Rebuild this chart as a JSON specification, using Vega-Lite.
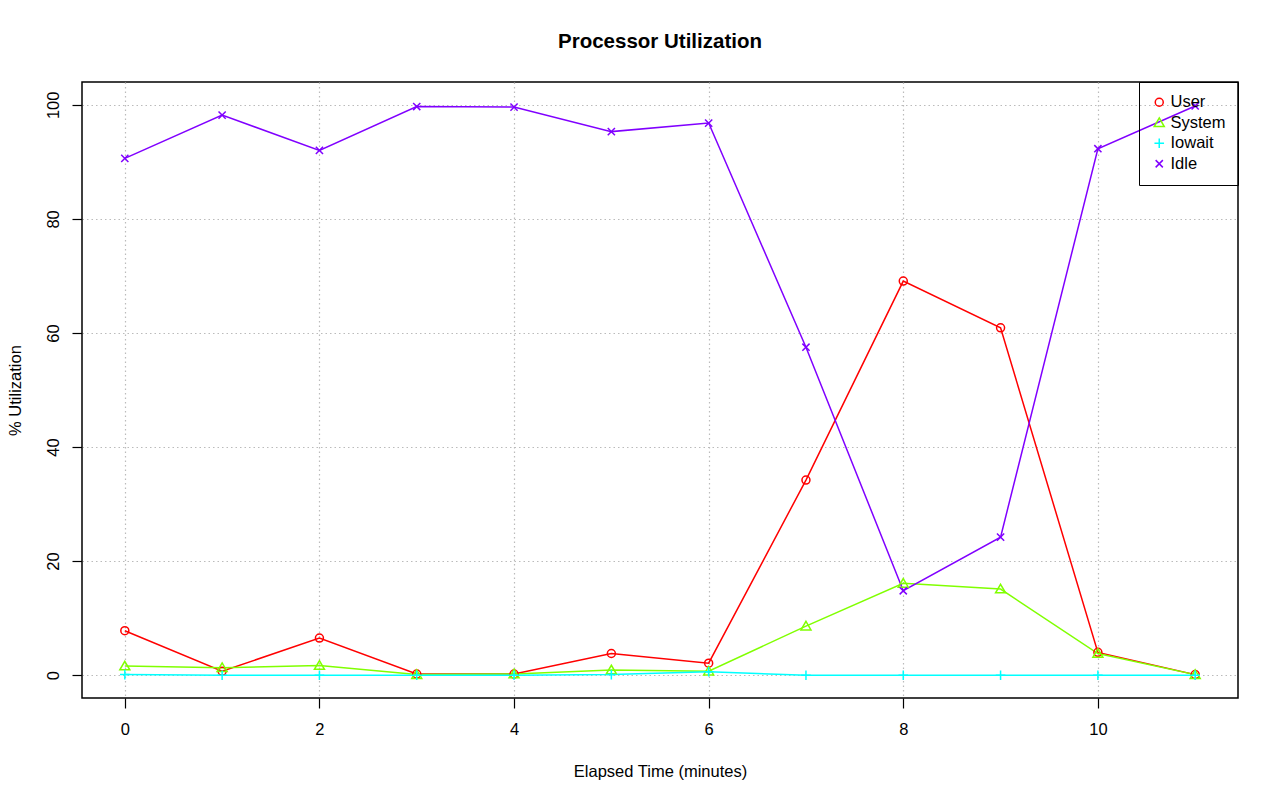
{
  "$schema": "https://vega.github.io/schema/vega-lite/v6.json",
  "autosize": {"type": "none"},
  "width": 1156,
  "height": 616,
  "padding": {"left": 82, "top": 82, "right": 42, "bottom": 103},
  "background": "white",
  "config": {
    "font": "Liberation Sans",
    "view": {"stroke": "black", "strokeWidth": 1.5},
    "axis": {
      "domain": false,
      "tickColor": "black",
      "tickSize": 10,
      "tickWidth": 1.2,
      "labelFontSize": 16.5,
      "labelColor": "black",
      "titleFontSize": 16.5,
      "titleFontWeight": "normal",
      "titleColor": "black",
      "gridColor": "#bbbbbb",
      "gridDash": [1.5, 3],
      "gridWidth": 1.2
    }
  },
  "title": {
    "text": "Processor Utilization",
    "fontSize": 20.5,
    "fontWeight": "bold",
    "color": "black",
    "anchor": "middle",
    "offset": 29
  },
  "data": {
    "values": [
      {"t": 0, "series": "User", "value": 7.8},
      {"t": 1, "series": "User", "value": 0.7},
      {"t": 2, "series": "User", "value": 6.5},
      {"t": 3, "series": "User", "value": 0.2},
      {"t": 4, "series": "User", "value": 0.2},
      {"t": 5, "series": "User", "value": 3.8},
      {"t": 6, "series": "User", "value": 2.1},
      {"t": 7, "series": "User", "value": 34.2},
      {"t": 8, "series": "User", "value": 69.1},
      {"t": 9, "series": "User", "value": 60.9},
      {"t": 10, "series": "User", "value": 4.0},
      {"t": 11, "series": "User", "value": 0.1},
      {"t": 0, "series": "System", "value": 1.6},
      {"t": 1, "series": "System", "value": 1.3},
      {"t": 2, "series": "System", "value": 1.7},
      {"t": 3, "series": "System", "value": 0.1},
      {"t": 4, "series": "System", "value": 0.2},
      {"t": 5, "series": "System", "value": 0.9},
      {"t": 6, "series": "System", "value": 0.7},
      {"t": 7, "series": "System", "value": 8.6},
      {"t": 8, "series": "System", "value": 16.1},
      {"t": 9, "series": "System", "value": 15.1},
      {"t": 10, "series": "System", "value": 3.8},
      {"t": 11, "series": "System", "value": 0.1},
      {"t": 0, "series": "Iowait", "value": 0.1},
      {"t": 1, "series": "Iowait", "value": 0.0},
      {"t": 2, "series": "Iowait", "value": 0.0},
      {"t": 3, "series": "Iowait", "value": 0.0},
      {"t": 4, "series": "Iowait", "value": 0.0},
      {"t": 5, "series": "Iowait", "value": 0.1},
      {"t": 6, "series": "Iowait", "value": 0.6},
      {"t": 7, "series": "Iowait", "value": 0.0},
      {"t": 8, "series": "Iowait", "value": 0.0},
      {"t": 9, "series": "Iowait", "value": 0.0},
      {"t": 10, "series": "Iowait", "value": 0.0},
      {"t": 11, "series": "Iowait", "value": 0.0},
      {"t": 0, "series": "Idle", "value": 90.6},
      {"t": 1, "series": "Idle", "value": 98.2},
      {"t": 2, "series": "Idle", "value": 92.0},
      {"t": 3, "series": "Idle", "value": 99.7},
      {"t": 4, "series": "Idle", "value": 99.6},
      {"t": 5, "series": "Idle", "value": 95.3},
      {"t": 6, "series": "Idle", "value": 96.8},
      {"t": 7, "series": "Idle", "value": 57.5},
      {"t": 8, "series": "Idle", "value": 14.8},
      {"t": 9, "series": "Idle", "value": 24.2},
      {"t": 10, "series": "Idle", "value": 92.3},
      {"t": 11, "series": "Idle", "value": 99.8}
    ]
  },
  "encoding": {
    "x": {
      "field": "t",
      "type": "quantitative",
      "scale": {"domain": [-0.44, 11.44], "nice": false, "zero": false},
      "axis": {
        "title": "Elapsed Time (minutes)",
        "values": [0, 2, 4, 6, 8, 10],
        "labelPadding": 13,
        "titlePadding": 26,
        "labelFlush": false
      }
    },
    "y": {
      "field": "value",
      "type": "quantitative",
      "scale": {"domain": [-4, 104], "nice": false, "zero": false},
      "axis": {
        "title": "% Utilization",
        "values": [0, 20, 40, 60, 80, 100],
        "labelAngle": -90,
        "labelAlign": "center",
        "labelBaseline": "bottom",
        "labelPadding": 11,
        "titlePadding": 22,
        "labelFlush": false
      }
    },
    "color": {
      "field": "series",
      "type": "nominal",
      "scale": {
        "domain": ["User", "System", "Iowait", "Idle"],
        "range": ["#FF0000", "#80FF00", "#00FFFF", "#8000FF"]
      },
      "legend": {
        "title": null,
        "orient": "top-right",
        "offset": 0,
        "strokeColor": "black",
        "padding": 12,
        "rowPadding": 3.5,
        "labelFontSize": 16.5,
        "labelColor": "black",
        "labelOffset": 3,
        "symbolStrokeWidth": 1.5,
        "symbolSize": 64
      }
    }
  },
  "layer": [
    {
      "mark": {"type": "line", "strokeWidth": 1.5},
      "encoding": {"detail": {"field": "series"}}
    },
    {
      "mark": {"type": "point", "filled": false, "strokeWidth": 1.5, "size": 64, "opacity": 1},
      "encoding": {
        "shape": {
          "field": "series",
          "type": "nominal",
          "scale": {
            "domain": ["User", "System", "Iowait", "Idle"],
            "range": ["circle", "M0,-1.2L1.25,0.95L-1.25,0.95Z", "M-1.2,0L1.2,0M0,-1.2L0,1.2", "M-0.9,-0.9L0.9,0.9M-0.9,0.9L0.9,-0.9"]
          }
        }
      }
    }
  ]
}
